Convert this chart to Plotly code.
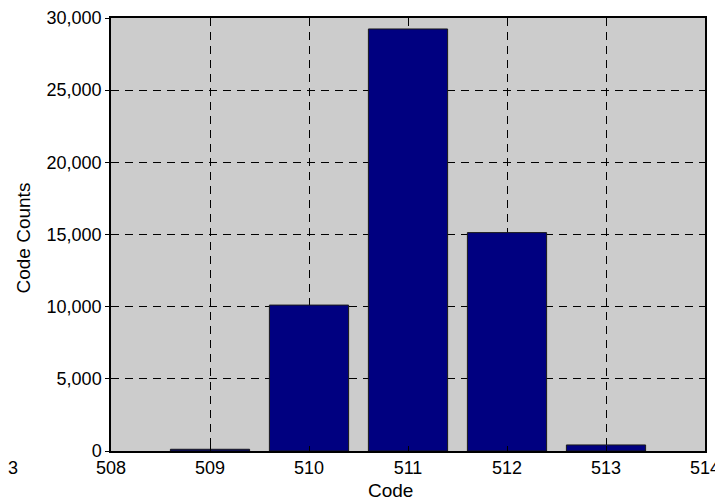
import plotly.graph_objects as go

codes = [509, 510, 511, 512, 513]
counts = [120, 10110, 29240, 15130, 420]
x_ticks = [508, 509, 510, 511, 512, 513, 514]
y_ticks = [0, 5000, 10000, 15000, 20000, 25000, 30000]
y_tick_labels = ["0", "5,000", "10,000", "15,000", "20,000", "25,000", "30,000"]
x_title = "Code"
y_title = "Code Counts"
stray_label = "3"

fig = go.Figure(go.Bar(
    x=codes, y=counts, width=0.8,
    marker=dict(color="#000080", line=dict(color="#1a1a1a", width=1)),
))

FONT = dict(family="Liberation Sans, Arial", size=19, color="black")
TICKFONT = dict(family="Liberation Sans, Arial", size=18, color="black")

# page body has an 8px default margin; compensate so the plot lands where the reference has it
fig.update_layout(
    width=715, height=492,
    margin=dict(l=103, r=18, t=10, b=49),
    paper_bgcolor="white", plot_bgcolor="#cccccc",
    font=FONT,
    showlegend=False,
    annotations=[
        dict(text=stray_label, xref="paper", yref="paper", x=-0.165, y=-0.039,
             showarrow=False, xanchor="center", yanchor="middle", font=TICKFONT),
        dict(text=x_title, xref="paper", yref="paper", x=0.47, y=-0.092,
             showarrow=False, xanchor="center", yanchor="middle", font=FONT),
        dict(text=y_title, xref="paper", yref="paper", x=-0.1465, y=0.493,
             textangle=-90, showarrow=False, xanchor="center", yanchor="middle",
             font=FONT),
    ],
)
fig.update_xaxes(
    range=[508, 514], tickvals=x_ticks, ticktext=[str(v) for v in x_ticks],
    tickfont=TICKFONT,
    showgrid=True, gridcolor="black", griddash="8px,6px", gridwidth=1,
    showline=True, linecolor="black", linewidth=1.5, mirror=True,
    ticks="inside", ticklen=5, tickcolor="black",
    zeroline=False, automargin=False,
)
fig.update_yaxes(
    range=[0, 30000], tickvals=y_ticks, ticktext=y_tick_labels,
    tickfont=TICKFONT,
    showgrid=True, gridcolor="black", griddash="8px,6px", gridwidth=1,
    showline=True, linecolor="black", linewidth=1.5, mirror=True,
    ticks="outside", ticklen=4, tickcolor="black",
    zeroline=False, automargin=False,
)

fig.write_html("out.html")
